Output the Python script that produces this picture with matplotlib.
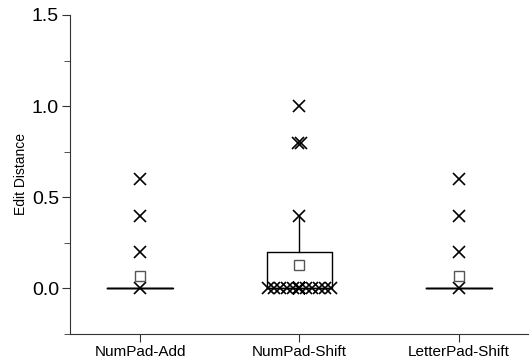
import numpy as np
import matplotlib.pyplot as plt
from matplotlib.ticker import MultipleLocator

plt.rcParams['font.family'] = ['Liberation Sans', 'DejaVu Sans']

# Categories and box statistics
groups = ["NumPad-Add", "NumPad-Shift", "LetterPad-Shift"]
q1 = [0.0, 0.0, 0.0]
med = [0.0, 0.0, 0.0]
q3 = [0.0, 0.2, 0.0]
whislo = [0.0, 0.0, 0.0]
whishi = [0.0, 0.4, 0.0]
means = [0.067, 0.13, 0.067]

# Raw data points shown as crosses
add_points = [0.0, 0.2, 0.4, 0.6]
shift_points = [0.0] * 11 + [0.4, 0.8, 0.8, 1.0]
letter_points = [0.0, 0.2, 0.4, 0.6]

fig = plt.figure(figsize=(5.29, 3.61), dpi=100)
ax = fig.add_axes([0.1323, 0.0748, 0.8677, 0.8837])

stats = []
for i, g in enumerate(groups):
    stats.append(dict(label=g, q1=q1[i], med=med[i], q3=q3[i],
                      whislo=whislo[i], whishi=whishi[i], mean=means[i], fliers=[]))

ax.bxp(stats, positions=[1, 2, 3], widths=0.41, showmeans=True, showcaps=False,
       showfliers=False,
       boxprops=dict(color='black', linewidth=1.0),
       whiskerprops=dict(color='black', linewidth=1.0),
       medianprops=dict(color='black', linewidth=1.0),
       meanprops=dict(marker='s', markerfacecolor='white', markeredgecolor='#555555',
                      markersize=7, markeredgewidth=1.0))

# scatter the raw points
ax.plot([1] * len(add_points), add_points, 'x', color='black', ms=8.5, mew=1.2)
ax.plot([3] * len(letter_points), letter_points, 'x', color='black', ms=8.5, mew=1.2)
zeros = [v for v in shift_points if v == 0.0]
others = [v for v in shift_points if v != 0.0]
ax.plot(2 + np.linspace(-0.2, 0.2, len(zeros)), zeros, 'x', color='black', ms=8.5, mew=1.2)
ax.plot(2 + np.linspace(0, 0, len(zeros)), zeros, 'x', color='black', ms=8.5, mew=1.2)
offs = [0, -0.012, 0.012, 0]
ax.plot(2 + np.array(offs), others, 'x', color='black', ms=8.5, mew=1.2)

ax.set_xlim(0.56, 3.44)
ax.set_ylim(-0.25, 1.5)
ax.set_xticks([1, 2, 3])
ax.set_xticklabels(groups, fontsize=11)
ax.yaxis.set_major_locator(MultipleLocator(0.5))
ax.yaxis.set_minor_locator(MultipleLocator(0.25))
ax.set_yticks([0.0, 0.5, 1.0, 1.5])
ax.set_yticklabels(["0.0", "0.5", "1.0", "1.5"], fontsize=14)
ax.set_ylabel("Edit Distance", fontsize=10, labelpad=3)

for s in ['top', 'right']:
    ax.spines[s].set_visible(False)
for s in ['left', 'bottom']:
    ax.spines[s].set_color('#333333')
ax.tick_params(axis='both', which='major', length=6, color='#333333', pad=2)
ax.tick_params(axis='y', which='minor', length=4, color='#333333')

fig.savefig("out.png", dpi=100)
